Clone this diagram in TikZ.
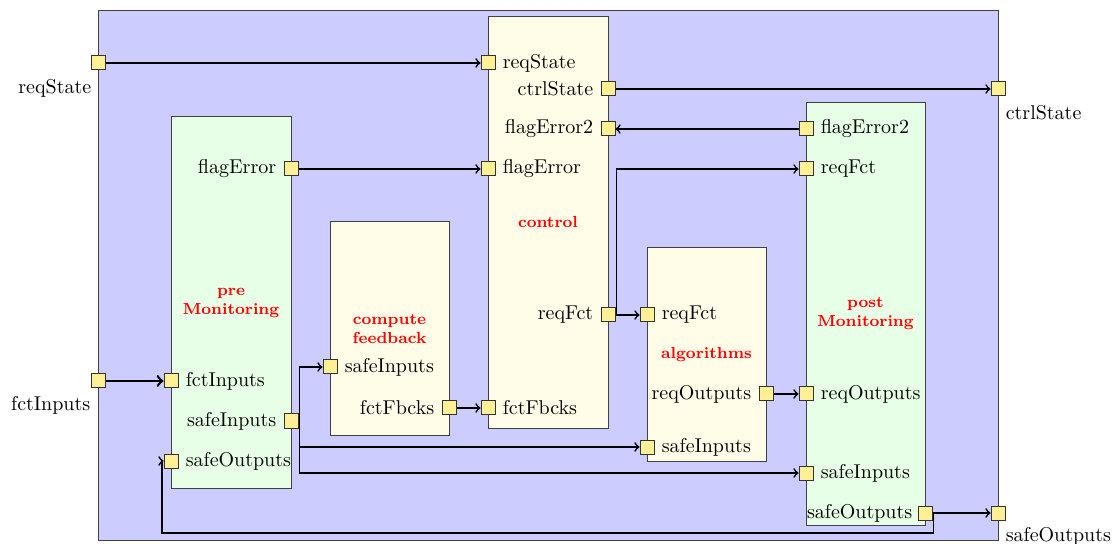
\documentclass[tikz,border=0pt]{standalone}
\usepackage{amsmath, amssymb}
\usepackage{tikz}
\definecolor{portyellow}{RGB}{255,240,150}
\definecolor{boxgreen}{RGB}{230,255,230}
\definecolor{boxcream}{RGB}{255,252,232}
\definecolor{sysblue}{RGB}{204,204,255}

\begin{document}
\begin{tikzpicture}[x=0.5pt, y=-0.5pt, semithick,
    block/.style={draw=black!75, line width=0.5pt, inner sep=0pt, align=center,
        font=\footnotesize\bfseries, text=red},
    port/.style={draw=black!80, line width=0.5pt, fill=portyellow, minimum size=7pt, inner sep=0pt},
    wire/.style={->, line width=0.8pt}]
        \useasboundingbox (0,0) rectangle (1117,544);

        % 外枠（システム全体）の定義
        \node[draw=black!75, line width=0.5pt, fill=sysblue, minimum width=450pt, minimum height=264.5pt] (SYS) at (548,275.5) {};

        % ブロックの定義
        \node[block, fill=boxgreen, minimum width=60pt, minimum height=185.5pt] (PRE) at (231,302.5) {pre\\Monitoring};
        \node[block, fill=boxcream, minimum width=59.5pt, minimum height=106.5pt] (CF) at (389.5,328.5) {compute\\feedback};
        \node[block, fill=boxcream, minimum width=60pt, minimum height=205.5pt] (CTL) at (548,222.5) {control};
        \node[block, fill=boxcream, minimum width=59.5pt, minimum height=106.5pt] (ALG) at (706.5,354.5) {algorithms};
        \node[block, fill=boxgreen, minimum width=59.5pt, minimum height=211pt] (POST) at (865.5,314) {post\\Monitoring};

        % ポートの定義
        \node[port, label={[label distance=0pt, xshift=4pt, yshift=-1pt]below left:reqState}] (IN1) at (98,63) {};
        \node[port, label={[label distance=0pt, xshift=3.5pt, yshift=-0.5pt]below left:fctInputs}] (IN2) at (98,381) {};
        \node[port, label={[label distance=0pt, xshift=-3.5pt, yshift=-1pt]below right:ctrlState}] (OUT1) at (998,89) {};
        \node[port, label={[label distance=0pt, xshift=-3.5pt, yshift=0pt]below right:safeOutputs}] (OUT2) at (998,513) {};

        \node[port, label={[label distance=0pt]left:flagError}] (PR1) at (291,169) {};
        \node[port, label={[label distance=0pt]right:fctInputs}] (PR2) at (171,381) {};
        \node[port, label={[label distance=0pt]left:safeInputs}] (PR3) at (291,421) {};
        \node[port, label={[label distance=0pt]right:safeOutputs}] (PR4) at (171,461) {};

        \node[port, label={[label distance=0pt]right:safeInputs}] (CF1) at (330,367) {};
        \node[port, label={[label distance=0pt]left:fctFbcks}] (CF2) at (449,408) {};

        \node[port, label={[label distance=0pt]right:reqState}] (CT1) at (488,63) {};
        \node[port, label={[label distance=0pt]left:ctrlState}] (CT2) at (608,89) {};
        \node[port, label={[label distance=0pt]left:flagError2}] (CT3) at (608,129) {};
        \node[port, label={[label distance=0pt]right:flagError}] (CT4) at (488,169) {};
        \node[port, label={[label distance=0pt]left:reqFct}] (CT5) at (608,315) {};
        \node[port, label={[label distance=0pt]right:fctFbcks}] (CT6) at (488,408) {};

        \node[port, label={[label distance=0pt]right:reqFct}] (AL1) at (647,315) {};
        \node[port, label={[label distance=0pt]left:reqOutputs}] (AL2) at (766,394) {};
        \node[port, label={[label distance=0pt]right:safeInputs}] (AL3) at (647,447) {};

        \node[port, label={[label distance=0pt]right:flagError2}] (PO1) at (806,129) {};
        \node[port, label={[label distance=0pt]right:reqFct}] (PO2) at (806,169) {};
        \node[port, label={[label distance=0pt]right:reqOutputs}] (PO3) at (806,394) {};
        \node[port, label={[label distance=0pt]right:safeInputs}] (PO4) at (806,473) {};
        \node[port, label={[label distance=-1pt]left:safeOutputs}] (PO5) at (925,513) {};

        \coordinate (B1) at (162,533);

        % 矢印（接続）の描画
        \draw[wire] (IN1) -- (CT1);
        \draw[wire] (CT2) -- (OUT1);
        \draw[wire] (PO1) -- (CT3);
        \draw[wire] (PR1) -- (CT4);
        \draw[wire, line width=1.2pt] (IN2) -- (PR2);
        \draw[wire] (CT5) -- (AL1);
        \draw[wire] (CT5.east) -- ++(1,0) |- (PO2);
        \draw[wire] (PR3.east) -- ++(1,0) |- (CF1);
        \draw[wire] (PR3.east) -- ++(1,0) |- (AL3);
        \draw[wire] (PR3.east) -- ++(1,0) |- (PO4);
        \draw[wire] (CF2) -- (CT6);
        \draw[wire] (AL2) -- (PO3);
        \draw[wire] (PO5) -- (OUT2);
        \draw[wire] (PO5.east) -- ++(1,0) |- (B1) |- (PR4);
    \end{tikzpicture}
\end{document}
